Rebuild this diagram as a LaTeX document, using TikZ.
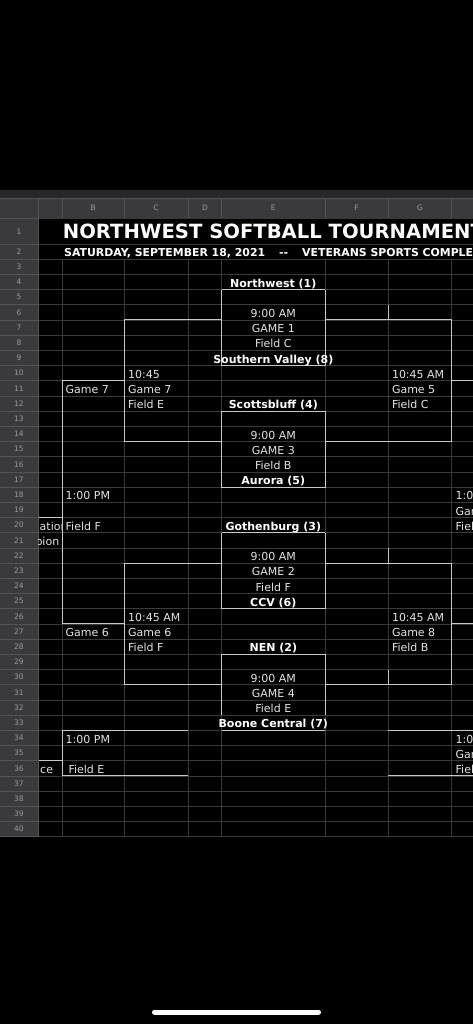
\documentclass[tikz,border=0pt]{standalone}
\usepackage{fontspec}
\setmainfont{DejaVu Sans}
\definecolor{gridc}{RGB}{58,58,58}
\definecolor{hdrbg}{RGB}{58,58,60}
\definecolor{hdrln}{RGB}{84,84,86}
\definecolor{bandc}{RGB}{40,40,42}
\definecolor{hdrtxt}{RGB}{155,155,157}
\definecolor{brkc}{RGB}{200,200,200}
\definecolor{txtc}{RGB}{228,228,228}
\newcommand\R[1]{274.3+(#1-4)*15.2}
\newcommand\celltext[4]{\node[txt] (#1) at (#2,{274.3+(#3-3)*15.2-2.5}) {#4};}
\newcommand\cellmid[3]{\node[ctr] (#1) at (273.3,{274.3+(#2-3)*15.2-2.5}) {#3};}
\newcommand\cellteam[3]{\node[team] (#1) at (273.3,{274.3+(#2-3)*15.2-2.5}) {#3};}
\def\xA{38.5}\def\xB{62}\def\xC{124.3}\def\xD{188.3}\def\xE{221.7}\def\xF{325}\def\xG{388.3}\def\xH{451.7}\def\xR{473}
\begin{document}
\begin{tikzpicture}[x=1pt,y=-1pt,
  gridln/.style={draw=gridc,line width=0.8pt},
  hdrline/.style={draw=hdrln,line width=0.8pt},
  brk/.style={draw=brkc,line width=1pt},
  txt/.style={inner sep=0pt,anchor=base west,text=txtc,font=\fontsize{11}{13}\selectfont},
  ctr/.style={inner sep=0pt,anchor=base,text=txtc,font=\fontsize{11}{13}\selectfont},
  team/.style={inner sep=0pt,anchor=base,text=white,font=\bfseries\fontsize{11}{13}\selectfont},
  rownum/.style={inner sep=0pt,anchor=base,text=hdrtxt,font=\fontsize{7.5}{8}\selectfont},
  colnum/.style={inner sep=0pt,anchor=base,text=hdrtxt,font=\fontsize{7.5}{8}\selectfont}]
\useasboundingbox (0,0) rectangle (473,1024);
\fill[black] (0,0) rectangle (473,1024);
\begin{scope}
\clip (0,0) rectangle (473,1024);
% bands
\fill[bandc] (0,190) rectangle (473,198);
\fill[hdrbg] (0,198) rectangle (473,218);
\fill[hdrbg] (0,218) rectangle (\xA,836.7);
% gridlines
\foreach \k in {3,...,41} \draw[gridln] (\xA,{\R{\k}}) -- (\xR,{\R{\k}});
\draw[gridln] (\xA,244.3) -- (\xR,244.3);
\draw[gridln] (\xA,218) -- (\xR,218);
\foreach \xx in {\xB,\xC,\xD,\xE,\xF,\xG,\xH} \draw[gridln] (\xx,{\R{3}}) -- (\xx,{\R{41}});
% header lines
\draw[hdrline] (0,198) -- (473,198);
\foreach \xx in {\xA,\xB,\xC,\xD,\xE,\xF,\xG,\xH} \draw[hdrline] (\xx,198) -- (\xx,218);
\draw[hdrline] (0,218) -- (\xA,218);
\draw[hdrline] (0,244.3) -- (\xA,244.3);
\foreach \k in {3,...,41} \draw[hdrline] (0,{\R{\k}}) -- (\xA,{\R{\k}});
\draw[hdrline] (\xA,218) -- (\xA,836.7);
% column letters
\node[colnum] (colB) at ({(\xB+\xC)/2},211) {B};
\node[colnum] (colC) at ({(\xC+\xD)/2},211) {C};
\node[colnum] (colD) at ({(\xD+\xE)/2},211) {D};
\node[colnum] (colE) at ({(\xE+\xF)/2},211) {E};
\node[colnum] (colF) at ({(\xF+\xG)/2},211) {F};
\node[colnum] (colG) at ({(\xG+\xH)/2},211) {G};
% row numbers
\node[rownum] (rn1) at (19,234) {1};
\node[rownum] (rn2) at (19,254.5) {2};
\foreach \k in {3,...,40} \node[rownum] (rn\k) at (19,{\R{\k}+10.4}) {\k};
% title
\node[inner sep=0pt,anchor=base west,text=white,font=\bfseries\fontsize{19.6}{21}\selectfont] (title) at (62.7,238.3) {NORTHWEST SOFTBALL TOURNAMENT};
\node[inner sep=0pt,anchor=base west,text=white,font=\bfseries\fontsize{10.9}{12}\selectfont] (sub1) at (64,256.5) {SATURDAY, SEPTEMBER 18, 2021};
\node[inner sep=0pt,anchor=base west,text=white,font=\bfseries\fontsize{10.9}{12}\selectfont] (sub2) at (279,256.5) {-{}-};
\node[inner sep=0pt,anchor=base west,text=white,font=\bfseries\fontsize{10.9}{12}\selectfont] (sub3) at (302,256.5) {VETERANS SPORTS COMPLEX};
% bracket: game boxes
\draw[brk] (\xE,{\R{5}}) -- (\xF,{\R{5}}); \draw[brk] (\xE,{\R{5}}) -- (\xE,{\R{10}}) -- (\xF,{\R{10}}) -- (\xF,{\R{5}});
\draw[brk] (\xE,{\R{13}}) -- (\xF,{\R{13}}); \draw[brk] (\xE,{\R{13}}) -- (\xE,{\R{18}}) -- (\xF,{\R{18}}) -- (\xF,{\R{13}});
\draw[brk] (\xE,{\R{21}}) -- (\xF,{\R{21}}); \draw[brk] (\xE,{\R{21}}) -- (\xE,{\R{26}}) -- (\xF,{\R{26}}) -- (\xF,{\R{21}});
\draw[brk] (\xE,{\R{29}}) -- (\xF,{\R{29}}); \draw[brk] (\xE,{\R{29}}) -- (\xE,{\R{33}}); \draw[brk] (\xF,{\R{29}}) -- (\xF,{\R{33}});
\draw[brk] (\xE,{\R{34}}) -- (\xF,{\R{34}});
% round 2 left
\draw[brk] (\xE,{\R{7}}) -- (\xC,{\R{7}}) -- (\xC,{\R{15}}) -- (\xE,{\R{15}});
\draw[brk] (\xE,{\R{23}}) -- (\xC,{\R{23}}) -- (\xC,{\R{31}}) -- (\xE,{\R{31}});
% round 2 right
\draw[brk] (\xF,{\R{7}}) -- (\xH,{\R{7}}) -- (\xH,{\R{15}}) -- (\xF,{\R{15}});
\draw[brk] (\xF,{\R{23}}) -- (\xH,{\R{23}}) -- (\xH,{\R{31}}) -- (\xF,{\R{31}});
\draw[brk] (\xG,{\R{6}}) -- (\xG,{\R{7}});
\draw[brk] (\xG,{\R{22}}) -- (\xG,{\R{23}});
\draw[brk] (\xG,{\R{30}}) -- (\xG,{\R{31}});
% round 3 left
\draw[brk] (\xC,{\R{11}}) -- (\xB,{\R{11}}) -- (\xB,{\R{27}}) -- (\xC,{\R{27}});
\draw[brk] (\xA,{\R{20}}) -- (\xB,{\R{20}});
% round 3 right
\draw[brk] (\xH,{\R{11}}) -- (\xR,{\R{11}});
\draw[brk] (\xH,{\R{27}}) -- (\xR,{\R{27}});
% lower left
\draw[brk] (\xD,{\R{34}}) -- (\xB,{\R{34}}) -- (\xB,{\R{37}}) -- (\xD,{\R{37}});
\draw[brk] (\xA,{\R{36}}) -- (\xB,{\R{36}});
% lower right
\draw[brk] (\xG,{\R{34}}) -- (\xR,{\R{34}});
\draw[brk] (\xG,{\R{37}}) -- (\xR,{\R{37}});
% texts column E
\cellteam{t4}{4}{Northwest (1)}
\cellmid{t6}{6}{9:00 AM}
\cellmid{t7}{7}{GAME 1}
\cellmid{t8}{8}{Field C}
\cellteam{t9}{9}{Southern Valley (8)}
\cellteam{t12}{12}{Scottsbluff (4)}
\cellmid{t14}{14}{9:00 AM}
\cellmid{t15}{15}{GAME 3}
\cellmid{t16}{16}{Field B}
\cellteam{t17}{17}{Aurora (5)}
\cellteam{t20}{20}{Gothenburg (3)}
\cellmid{t22}{22}{9:00 AM}
\cellmid{t23}{23}{GAME 2}
\cellmid{t24}{24}{Field F}
\cellteam{t25}{25}{CCV (6)}
\cellteam{t28}{28}{NEN (2)}
\cellmid{t30}{30}{9:00 AM}
\cellmid{t31}{31}{GAME 4}
\cellmid{t32}{32}{Field E}
\cellteam{t33}{33}{Boone Central (7)}
% column C
\celltext{c10}{128}{10}{10:45}
\celltext{c11}{128}{11}{Game 7}
\celltext{c12}{128}{12}{Field E}
\celltext{c26}{128}{26}{10:45 AM}
\celltext{c27}{128}{27}{Game 6}
\celltext{c28}{128}{28}{Field F}
% column G
\celltext{g10}{391.8}{10}{10:45 AM}
\celltext{g11}{391.8}{11}{Game 5}
\celltext{g12}{391.8}{12}{Field C}
\celltext{g26}{391.8}{26}{10:45 AM}
\celltext{g27}{391.8}{27}{Game 8}
\celltext{g28}{391.8}{28}{Field B}
% column B
\celltext{b11}{65.5}{11}{Game 7}
\celltext{b18}{65.5}{18}{1:00 PM}
\celltext{b20}{65.5}{20}{Field F}
\celltext{b27}{65.5}{27}{Game 6}
\celltext{b34}{65.5}{34}{1:00 PM}
\celltext{b36}{68.3}{36}{Field E}
% column H
\celltext{h18}{455.5}{18}{1:00 PM}
\celltext{h19}{455.5}{19}{Game}
\celltext{h20}{455.5}{20}{Field}
\celltext{h34}{455.5}{34}{1:00 PM}
\celltext{h35}{455.5}{35}{Game}
\celltext{h36}{455.5}{36}{Field}
% column A (clipped)
\begin{scope}
\clip (\xA,{\R{20}}) rectangle (61.5,{\R{22}});
\celltext{a20}{39.5}{20}{ation}
\celltext{a21}{35.3}{21}{pion}
\end{scope}
\celltext{a36}{40}{36}{ce}
\end{scope}
% home indicator
\draw[white,line width=5pt,line cap=round] (154.5,1012) coordinate (hl) -- (318.5,1012) coordinate (hr);
\end{tikzpicture}
\end{document}
